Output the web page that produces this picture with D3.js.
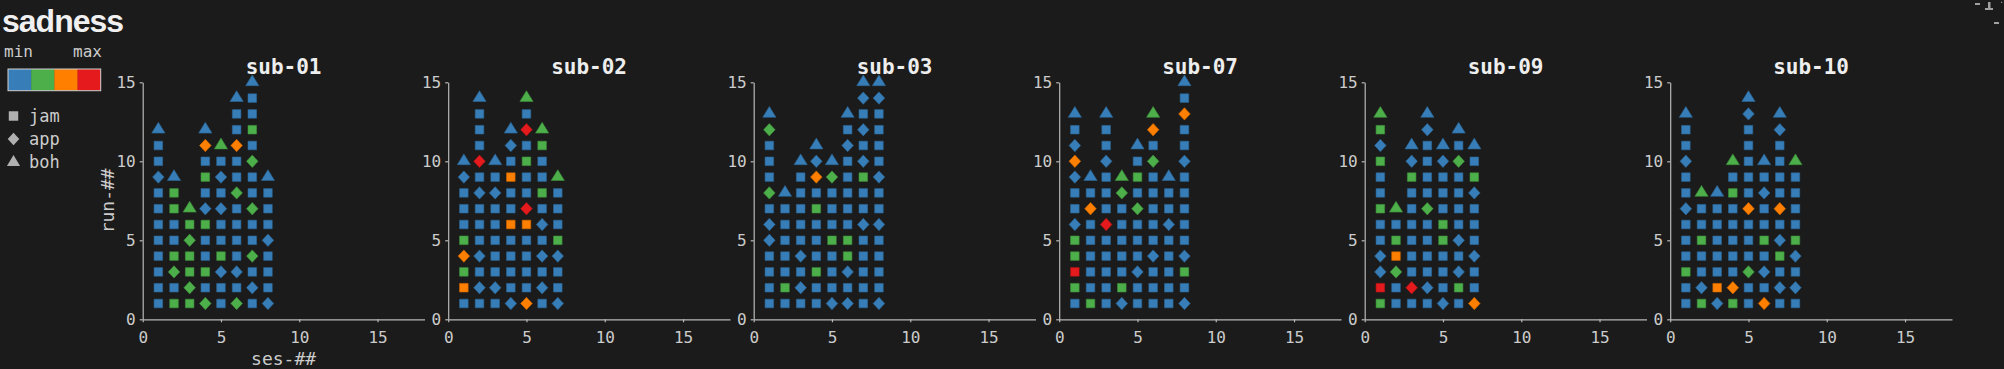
<!DOCTYPE html>
<html><head><meta charset="utf-8">
<script src="https://cdn.jsdelivr.net/npm/d3@7/dist/d3.min.js"></script>
<style>
html,body{margin:0;padding:0;background:#1b1b1b;overflow:hidden;}
svg{display:block;}
</style></head><body>
<script>
// ---- data: one string per session, one token per run: shape (s=jam,d=app,t=boh) + level (1..4)
const subjects = ["sub-01","sub-02","sub-03","sub-07","sub-09","sub-10"];
const sub01 = [
  "s1 s1 s1 s1 s1 s1 s1 s1 d1 s1 s1 t1",
  "s2 s1 d2 s2 s1 s1 s2 s2 t1",
  "s2 d2 s2 s2 d2 s2 t2",
  "d2 s1 s2 s1 s1 s2 d1 s1 s2 s1 d3 t1",
  "s1 s1 d1 s2 s1 s1 d1 s1 d1 s1 t2",
  "d2 s1 d1 s1 s1 s1 s1 d2 s1 s1 d3 s1 s1 t1",
  "s1 d1 s1 d2 s1 s1 d2 s1 s1 d2 s1 s2 s1 s1 t1",
  "d1 s1 s1 s1 d1 s1 s1 s1 t1"
];
const sub02 = [
  "s1 s3 s2 d3 s2 s1 s1 s1 d1 t1",
  "s1 d1 s1 d1 s1 s1 s1 d1 s1 d4 s1 s1 s1 t1",
  "s1 d1 s1 s1 s1 s1 s1 d1 s1 t1",
  "d1 s1 s1 s1 s1 s3 s1 s1 s3 s1 d1 t1",
  "d3 s1 s1 s1 s1 s3 d4 s1 s1 s2 s1 d4 s1 t2",
  "s1 d1 s1 d1 s1 d1 s1 s2 s1 s1 s2 t2",
  "d1 s1 s1 d1 s2 s1 s1 s1 t2"
];
const sub03 = [
  "s1 s1 s1 s1 d1 d1 s1 d2 s1 s1 s1 d2 t1",
  "s1 s2 s1 s1 s1 s1 s1 t1",
  "s1 d1 s1 d1 s1 s1 s1 s1 s1 t1",
  "s1 s1 s2 s1 s1 s1 s2 s1 d3 d1 t1",
  "d1 s1 s1 s1 s2 s1 s1 s1 d2 t1",
  "d1 s1 d1 s2 s2 s1 s1 s1 s1 s1 d1 s1 t1",
  "s1 s1 s1 s1 s1 d1 s1 s1 s2 d1 s1 d1 s1 d1 t1",
  "d1 s1 s1 s1 s1 d1 s1 s1 d1 s1 s1 s1 s1 d1 t1"
];
const sub07 = [
  "s1 s2 s4 s2 s2 d1 s1 s1 d1 d3 d1 s1 t1",
  "s2 s1 s1 s1 s1 s1 d3 s1 t1",
  "s1 s1 s1 s1 s1 d4 s1 s1 s1 d1 s1 s1 t1",
  "d1 s2 s1 s1 s1 s1 s1 d2 t2",
  "s1 s1 d1 s1 s1 s1 d2 s1 s2 s1 t1",
  "s1 s1 s1 d1 s1 s1 s1 s1 s1 d2 s1 d3 t2",
  "s1 s1 s1 s1 s1 d1 s1 s1 t1",
  "d1 s1 s2 d1 s1 s1 s1 s1 s1 d1 s1 s1 d3 s1 t1"
];
const sub09 = [
  "s2 s4 d1 d1 s1 s1 s2 s1 s1 s2 d1 s2 t2",
  "s1 s1 d2 s3 s2 s1 t2",
  "s1 d4 s1 s1 s1 s1 s1 s1 s2 d1 t1",
  "s1 d1 s1 s1 s1 s1 d2 s1 s1 s1 s1 d1 t1",
  "d1 s1 s1 s1 s2 s2 s1 s1 s1 d1 t1",
  "s1 s2 d1 s1 d1 s1 s1 s1 s1 d2 s1 t1",
  "d3 s1 s1 d1 s1 s1 s1 d1 s2 s1 t1"
];
const sub10 = [
  "s1 s1 s2 s1 s1 s1 d1 s1 s1 d1 s1 s1 t1",
  "s2 d1 s1 s1 s2 s1 s1 t2",
  "d1 s3 s1 s1 s1 s1 s1 t1",
  "s2 d3 s1 s1 s1 s1 s1 s2 s1 t2",
  "s1 s1 d2 s1 s1 s1 d3 s1 s1 s1 s1 s1 d1 t1",
  "d3 s1 d1 s1 s2 s1 s1 d1 s1 t1",
  "s1 d1 s1 s2 d1 s1 d3 s1 s1 s1 s1 d1 t1",
  "s1 d1 s1 d1 s2 s1 s1 s1 s1 t2"
];
const subjectData = [sub01, sub02, sub03, sub07, sub09, sub10];
const shapeCodes = ["s","d","t"];
const shapeNames = ["jam","app","boh"];
const levels = [1,2,3,4];
const levelColors = ["#377eb8","#4daf4a","#ff7f00","#e41a1c"];
const xDomain = [0,18], yDomain = [0,15];
const xTicks = [0,5,10,15], yTicks = [0,5,10,15];
const figTitle = "sadness", xLabel = "ses-##", yLabel = "run-##";

// ---- layout
const W = 2004, H = 369;
const panelLeft0 = 142.7, panelStep = 305.5, panelW = 281.8;
const panelTop = 82.3, panelBottom = 319.3;
const bg = "#1b1b1b", fg = "#cccccc", axisCol = "#b8b8b8";
const mono = "'DejaVu Sans Mono', monospace";

const svg = d3.select("body").append("svg").attr("width", W).attr("height", H)
  .style("background", bg);

const color = d3.scaleOrdinal().domain(levels).range(levelColors);
const shapeOf = d3.scaleOrdinal().domain(shapeCodes).range(shapeNames);

function markerPath(shape){
  if(shape==="jam"){ const h=4.3; return `M${-h},${-h}H${h}V${h}H${-h}Z`; }
  if(shape==="app"){ const w=5.8, h=6.2; return `M0,${-h}L${w},0L0,${h}L${-w},0Z`; }
  const w=6.6; return `M0,-7.4L${w},3.4L${-w},3.4Z`;
}

// ---- panels
subjects.forEach((name, i) => {
  const x0 = panelLeft0 + i*panelStep;
  const x = d3.scaleLinear().domain(xDomain).range([x0, x0+panelW]);
  const y = d3.scaleLinear().domain(yDomain).range([panelBottom, panelTop]);
  const g = svg.append("g");

  const xa = g.append("g").attr("transform", `translate(0,${panelBottom})`)
    .call(d3.axisBottom(x).tickValues(xTicks).tickFormat(d3.format("d")).tickSize(3).tickSizeOuter(0).tickPadding(9));
  const ya = g.append("g").attr("transform", `translate(${x0},0)`)
    .call(d3.axisLeft(y).tickValues(yTicks).tickFormat(d3.format("d")).tickSize(3).tickSizeOuter(0).tickPadding(4));
  [xa, ya].forEach(a => {
    a.select(".domain").attr("stroke", axisCol).attr("stroke-width", 1.2);
    a.selectAll(".tick line").attr("stroke", axisCol).attr("stroke-width", 1.2);
    a.selectAll(".tick text").attr("fill", fg).style("font-family", mono).style("font-size", "16px");
  });

  g.append("text").attr("x", (x(xDomain[0])+x(xDomain[1]))/2).attr("y", 74)
    .attr("text-anchor","middle").attr("fill","#eeeeee")
    .style("font-family", mono).style("font-weight","bold").style("font-size","21px")
    .text(name);

  const pts = [];
  subjectData[i].forEach((sess, si) => {
    sess.split(" ").forEach((tok, ri) => {
      pts.push({ses: si+1, run: ri+1, shape: shapeOf(tok[0]), level: +tok[1]});
    });
  });
  g.selectAll("path.mk").data(pts).enter().append("path").attr("class","mk")
    .attr("transform", d => `translate(${x(d.ses)},${y(d.run)})`)
    .attr("d", d => markerPath(d.shape))
    .attr("fill", d => color(d.level))
    .attr("stroke", d => d3.color(color(d.level)).darker(0.6))
    .attr("stroke-width", 0.6);

  if(i===0){
    g.append("text").attr("x", (x(xDomain[0])+x(xDomain[1]))/2).attr("y", 365)
      .attr("text-anchor","middle").attr("fill", fg)
      .style("font-family", mono).style("font-size","18px").text(xLabel);
    g.append("text").attr("transform", `translate(114,${(panelTop+panelBottom)/2}) rotate(-90)`)
      .attr("text-anchor","middle").attr("fill", fg)
      .style("font-family", mono).style("font-size","18px").text(yLabel);
  }
});

// ---- title and legend
svg.append("text").attr("x", 2).attr("y", 32).attr("fill","#f0f0f0")
  .style("font-family","'Liberation Sans', Arial, sans-serif").style("font-weight","bold")
  .style("font-size","32px").style("letter-spacing","-1px").text(figTitle);

svg.append("text").attr("x", 4).attr("y", 57).attr("fill", fg)
  .style("font-family", mono).style("font-size","16px").text("min");
svg.append("text").attr("x", 73).attr("y", 57).attr("fill", fg)
  .style("font-family", mono).style("font-size","16px").text("max");

const cb = d3.scaleBand().domain(levels).range([8, 100.7]);
svg.selectAll("rect.cb").data(levels).enter().append("rect").attr("class","cb")
  .attr("x", d => cb(d)).attr("y", 69).attr("width", cb.bandwidth()+0.3).attr("height", 21.7)
  .attr("fill", d => color(d));
svg.append("rect").attr("x", 8).attr("y", 69).attr("width", 92.7).attr("height", 21.7)
  .attr("fill","none").attr("stroke","#cfcfcf").attr("stroke-width",1);

const leg = svg.selectAll("g.leg").data(shapeNames).enter().append("g").attr("class","leg")
  .attr("transform", (d,k) => `translate(13.5,${116 + k*23})`);
leg.append("path").attr("d", d => markerPath(d)).attr("fill","#b0b0b0")
  .attr("transform", d => d==="jam" ? "scale(1.1)" : d==="boh" ? "translate(0,0.5)" : "");
leg.append("text").attr("x", 15.5).attr("y", 6).attr("fill", fg)
  .style("font-family", mono).style("font-size","17px").text(d => d);

// ---- small marks at top-right corner
[[1975,3,5,2],[1988,2,2.5,7],[1985,8,8,2],[2001,1.7,1.2,1.2],[1994,22,5,2]].forEach(r => {
  svg.append("rect").attr("x",r[0]).attr("y",r[1]).attr("width",r[2]).attr("height",r[3]).attr("fill","#a0a0a0");
});
</script>
</body></html>
